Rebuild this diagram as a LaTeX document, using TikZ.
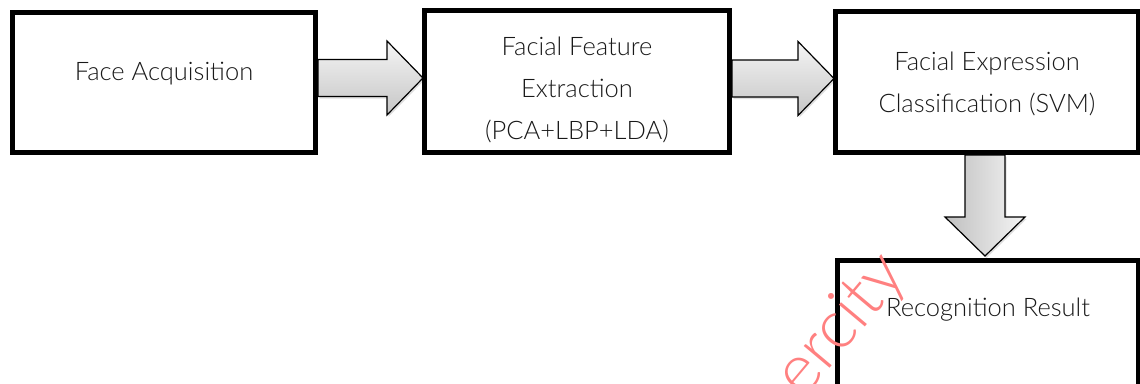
\documentclass[tikz,border=0pt]{standalone}
\usepackage{fontspec}
\setmainfont{Lato}[UprightFont={* Light}]
\usetikzlibrary{calc,backgrounds,shadows}
\tikzset{
  font={\fontsize{25.5pt}{42pt}\selectfont},
  stagebox/.style={draw,line width=5pt,fill=white,text=black!90,text height=20pt},
  blockarrow/.style={draw=black,line width=1.2pt,line join=miter,
    drop shadow={opacity=0.25,shadow xshift=1.5pt,shadow yshift=-2pt}}}
% block arrows between the stages
\newcommand{\rightblock}[2]{%
  \path[blockarrow,top color=gray!8,bottom color=gray!45]
    let \p1=(#1.east), \p2=(#2.west) in
    (\x1,\y2+22pt) -- (\x2-35pt,\y2+22pt) -- (\x2-35pt,\y2+40.5pt)
    -- (\x2+1pt,\y2+3.5pt) -- (\x2-35pt,\y2-33.5pt) -- (\x2-35pt,\y2-15pt)
    -- (\x1,\y2-15pt) -- cycle;}
\newcommand{\downblock}[2]{%
  \path[blockarrow,left color=gray!50,right color=gray!8]
    let \p1=(#1.south), \p2=(#2.north) in
    (\x1-22pt,\y1) -- (\x1+18pt,\y1) -- (\x1+18pt,\y2+41pt)
    -- (\x1+38pt,\y2+41pt) -- (\x1-2pt,\y2+2pt) -- (\x1-42pt,\y2+41pt)
    -- (\x1-22pt,\y2+41pt) -- cycle;}
\newcommand{\lines}[1]{\begin{tabular}[t]{@{}c@{}}#1\end{tabular}}

\begin{document}
\begin{tikzpicture}[x=1pt,y=-1pt]
\useasboundingbox (0,0) rectangle (1140,383);
\node[stagebox,minimum width=303pt,minimum height=140pt,text depth=25pt] (acq) at (164,82.5) {Face Acquisition};
\node[stagebox,minimum width=305pt,minimum height=142pt,text depth=73pt] (feat) at (577,81.5)
  {\lines{Facial Feature\\Extraction\\(PCA+LBP+LDA)}};
\node[stagebox,minimum width=303pt,minimum height=141pt,text depth=44pt] (svm) at (987,82)
  {\lines{Facial Expression\\Classification (SVM)}};
\node[stagebox,minimum width=301pt,minimum height=140pt,text depth=47.5pt] (res) at (988,330.5) {Recognition Result};
\begin{scope}[on background layer]
\rightblock{acq}{feat}
\rightblock{feat}{svm}
\downblock{svm}{res}
\end{scope}
\node[text=red!50,rotate=50,font={\fontsize{68pt}{68pt}\selectfont}] (wm) at (842,326) {ercity};
\end{tikzpicture}
\end{document}
